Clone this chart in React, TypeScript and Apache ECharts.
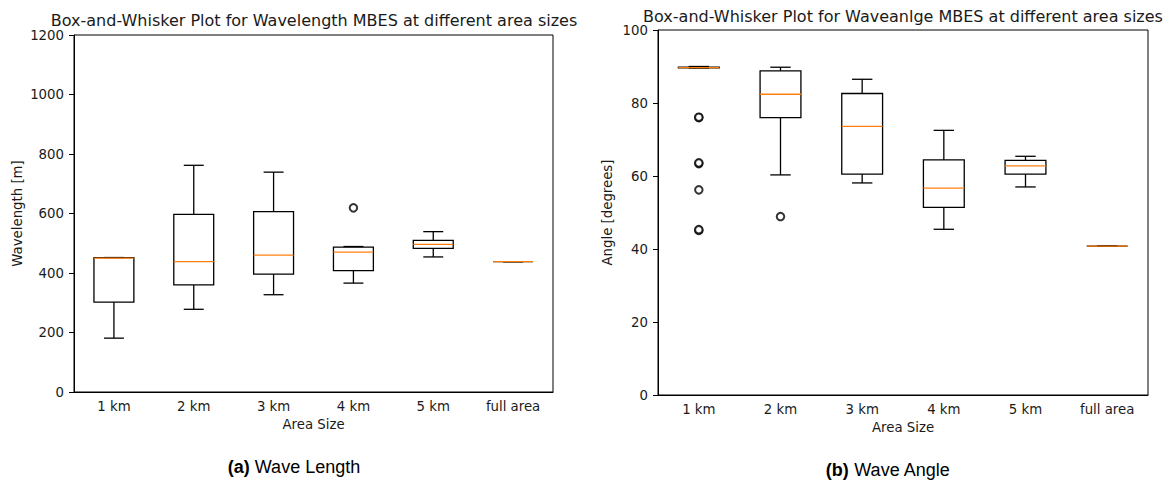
import React, { useEffect, useRef } from "react";
import * as echarts from "echarts";

const categories = ["1 km", "2 km", "3 km", "4 km", "5 km", "full area"];

// [min, Q1, median, Q3, max]
const lengthStats = [
  [181, 302, 450, 452, 452],
  [278, 360, 438, 597, 762],
  [327, 396, 460, 606, 739],
  [366, 408, 470, 487, 489],
  [454, 483, 496, 510, 539],
  [438, 438, 438, 438, 438],
];
const lengthOutliers = [[3, 619]];

const angleStats = [
  [89.6, 89.6, 89.7, 89.8, 90.0],
  [60.3, 76.0, 82.4, 88.8, 89.8],
  [58.1, 60.5, 73.6, 82.6, 86.5],
  [45.4, 51.4, 56.7, 64.4, 72.5],
  [57.0, 60.5, 62.8, 64.3, 65.4],
  [40.8, 40.8, 40.8, 40.8, 40.8],
];
const angleOutliers = [
  [0, 76.0], [0, 76.1], [0, 63.4], [0, 63.6], [0, 56.2], [0, 45.1], [0, 45.3], [1, 48.9],
];

const lengthTicks = { min: 0, max: 1200, interval: 200 };
const angleTicks = { min: 0, max: 100, interval: 20 };

const FONT = "DejaVu Sans";
const TEXT = "#1a1a1a";
const BLACK = "#000";
const ORANGE = "#ff7f0e";
const LW = 1.3;
const FS = 13.3;

function boxRender(params: any, api: any) {
  const x = api.value(0);
  const lo = api.coord([x, api.value(1)]);
  const q1 = api.coord([x, api.value(2)]);
  const med = api.coord([x, api.value(3)]);
  const q3 = api.coord([x, api.value(4)]);
  const hi = api.coord([x, api.value(5)]);
  const bw = api.size([1, 0])[0] * 0.5;
  const cx = q1[0];
  const line = (x1: number, y1: number, x2: number, y2: number, color = BLACK) => ({
    type: "line",
    shape: { x1, y1, x2, y2 },
    style: { stroke: color, lineWidth: LW },
  });
  return {
    type: "group",
    children: [
      line(cx, q3[1], cx, hi[1]),
      line(cx, q1[1], cx, lo[1]),
      line(cx - bw / 4, hi[1], cx + bw / 4, hi[1]),
      line(cx - bw / 4, lo[1], cx + bw / 4, lo[1]),
      {
        type: "rect",
        shape: { x: cx - bw / 2, y: q3[1], width: bw, height: q1[1] - q3[1] },
        style: { fill: "none", stroke: BLACK, lineWidth: LW },
      },
      line(cx - bw / 2, med[1], cx + bw / 2, med[1], ORANGE),
    ],
  };
}

function makeAxes(gridIndex: number, ticks: any, yName: string, yGap: number) {
  const x = {
    type: "category",
    gridIndex,
    data: categories,
    boundaryGap: true,
    axisLine: { lineStyle: { color: BLACK, width: 1 } },
    axisTick: { alignWithLabel: true, length: 5, lineStyle: { color: BLACK } },
    axisLabel: { color: TEXT, fontFamily: FONT, fontSize: FS, margin: 8 },
    name: "Area Size",
    nameLocation: "middle",
    nameGap: 26,
    nameTextStyle: { color: TEXT, fontFamily: FONT, fontSize: FS },
    splitLine: { show: false },
  };
  const y = {
    type: "value",
    gridIndex,
    min: ticks.min,
    max: ticks.max,
    interval: ticks.interval,
    axisLine: { show: true, lineStyle: { color: BLACK, width: 1 } },
    axisTick: { show: true, length: 5, lineStyle: { color: BLACK } },
    axisLabel: {
      color: TEXT,
      fontFamily: FONT,
      fontSize: FS,
      margin: 10,
      formatter: (v: number) => String(v),
    },
    splitLine: { show: false },
    name: yName,
    nameLocation: "middle",
    nameGap: yGap,
    nameTextStyle: { color: TEXT, fontFamily: FONT, fontSize: FS },
  };
  return { x, y };
}

export default function App() {
  const ref = useRef<HTMLDivElement>(null);
  useEffect(() => {
    if (!ref.current) return;
    const chart = echarts.init(ref.current, null, { renderer: "svg" });
    const a = makeAxes(0, lengthTicks, "Wavelength [m]", 50);
    const b = makeAxes(1, angleTicks, "Angle [degrees]", 44);
    const toBox = (s: number[][]) => s.map((r, i) => [i, ...r]);
    chart.setOption({
      animation: false,
      backgroundColor: "#fff",
      grid: [
        { left: 74, top: 35, width: 479, height: 357, show: true, borderColor: BLACK, borderWidth: 1, backgroundColor: "transparent" },
        { left: 658, top: 30, width: 490, height: 365, show: true, borderColor: BLACK, borderWidth: 1, backgroundColor: "transparent" },
      ],
      xAxis: [a.x, b.x],
      yAxis: [a.y, b.y],
      series: [
        {
          type: "custom",
          name: "Wavelength",
          xAxisIndex: 0,
          yAxisIndex: 0,
          renderItem: boxRender,
          encode: { x: 0, y: [1, 2, 3, 4, 5] },
          data: toBox(lengthStats),
          z: 3,
        },
        {
          type: "scatter",
          xAxisIndex: 0,
          yAxisIndex: 0,
          symbol: "emptyCircle",
          symbolSize: 7.5,
          itemStyle: { color: BLACK, borderColor: BLACK, borderWidth: 1.2 },
          data: lengthOutliers,
          z: 4,
        },
        {
          type: "custom",
          name: "Angle",
          xAxisIndex: 1,
          yAxisIndex: 1,
          renderItem: boxRender,
          encode: { x: 0, y: [1, 2, 3, 4, 5] },
          data: toBox(angleStats),
          z: 3,
        },
        {
          type: "scatter",
          xAxisIndex: 1,
          yAxisIndex: 1,
          symbol: "emptyCircle",
          symbolSize: 7.5,
          itemStyle: { color: BLACK, borderColor: BLACK, borderWidth: 1.2 },
          data: angleOutliers,
          z: 4,
        },
      ],
      graphic: [
        {
          type: "text",
          x: 314,
          y: 20,
          style: {
            text: "Box-and-Whisker Plot for Wavelength MBES at different area sizes",
            fontFamily: FONT,
            fontSize: 16,
            fill: TEXT,
            textAlign: "center",
            textVerticalAlign: "middle",
          },
        },
        {
          type: "text",
          x: 903,
          y: 16,
          style: {
            text: "Box-and-Whisker Plot for Waveanlge MBES at different area sizes",
            fontFamily: FONT,
            fontSize: 16,
            fill: TEXT,
            textAlign: "center",
            textVerticalAlign: "middle",
          },
        },
        {
          type: "text",
          x: 294,
          y: 467,
          style: {
            text: "{b|(a)} Wave Length",
            fontFamily: "Liberation Sans",
            fontSize: 18,
            fill: "#000",
            textAlign: "center",
            textVerticalAlign: "middle",
            rich: { b: { fontWeight: "bold", fontFamily: "Liberation Sans", fontSize: 18, fill: "#000" } },
          },
        },
        {
          type: "text",
          x: 888,
          y: 470,
          style: {
            text: "{b|(b)} Wave Angle",
            fontFamily: "Liberation Sans",
            fontSize: 18,
            fill: "#000",
            textAlign: "center",
            textVerticalAlign: "middle",
            rich: { b: { fontWeight: "bold", fontFamily: "Liberation Sans", fontSize: 18, fill: "#000" } },
          },
        },
      ],
    });
    return () => chart.dispose();
  }, []);
  return (
    <div
      ref={ref}
      style={{ position: "absolute", left: 0, top: 0, width: 1175, height: 484, background: "#fff" }}
    />
  );
}
